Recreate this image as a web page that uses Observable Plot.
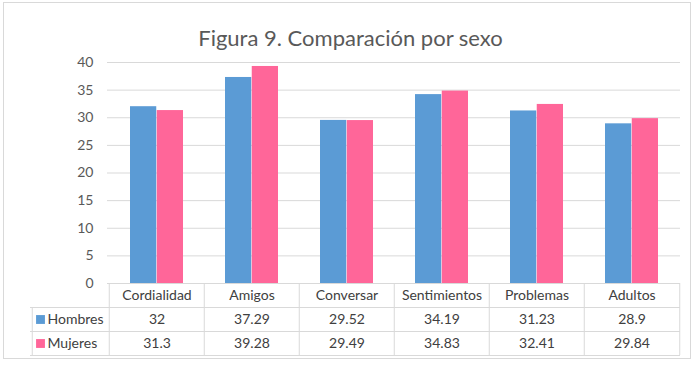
<!DOCTYPE html>
<html>
<head>
<meta charset="utf-8">
<script src="https://cdn.jsdelivr.net/npm/d3@7"></script>
<script src="https://cdn.jsdelivr.net/npm/@observablehq/plot@0.6"></script>
<style>
  html, body { margin: 0; padding: 0; background: #fff; }
  #wrap { position: relative; width: 700px; height: 367px; overflow: hidden; }
  #border { position: absolute; left: 3px; top: 2px; width: 686px; height: 355px; border: 1px solid #d9d9d9; pointer-events: none; }
</style>
</head>
<body>
<div id="wrap"><div id="border"></div></div>
<script>
const title = "Figura 9. Comparación por sexo";
const categories = ["Cordialidad", "Amigos", "Conversar", "Sentimientos", "Problemas", "Adultos"];
const seriesNames = ["Hombres", "Mujeres"];
const hombres = [32, 37.29, 29.52, 34.19, 31.23, 28.9];
const mujeres = [31.3, 39.28, 29.49, 34.83, 32.41, 29.84];
const yTicks = [0, 5, 10, 15, 20, 25, 30, 35, 40];

const colors = {Hombres: "#5B9BD5", Mujeres: "#FF6699"};
const W = 700, H = 367, mL = 107, mR = 20, mT = 62, mB = 84;
const bw = (W - mL - mR) / categories.length;
const k = 40 / (H - mT - mB); // data units per pixel
const grid = "#d9d9d9";
const textColor = "#404040";
const font = "Lato, 'Open Sans', sans-serif";

const rows = categories.map((c, i) => ({cat: c, h: hombres[i], m: mujeres[i]}));

const chart = Plot.plot({
  width: W, height: H,
  marginLeft: mL, marginRight: mR, marginTop: mT, marginBottom: mB,
  style: {fontFamily: font, fontSize: "14px", color: textColor, background: "transparent"},
  x: {type: "band", domain: categories, padding: 0, axis: null},
  y: {domain: [0, 40], axis: null},
  marks: [
    Plot.gridY({ticks: yTicks, stroke: grid, strokeOpacity: 1}),
    Plot.axisY({ticks: yTicks, tickSize: 0, tickPadding: 14, fontSize: 14, fill: "#595959"}),
    Plot.barY(rows, {x: "cat", y: "h", fill: colors.Hombres, insetLeft: 21, insetRight: bw / 2}),
    Plot.barY(rows, {x: "cat", y: "m", fill: colors.Mujeres, insetLeft: bw / 2, insetRight: 21}),
    // table horizontal lines
    Plot.ruleY([0], {stroke: grid}),
    Plot.ruleY([0], {stroke: grid, dy: 24, insetLeft: -77}),
    Plot.ruleY([0], {stroke: grid, dy: 48, insetLeft: -77}),
    Plot.ruleY([0], {stroke: grid, dy: 72, insetLeft: -77}),
    // table vertical lines
    Plot.ruleX(categories, {x: d => d, dx: -bw / 2, y1: 0, y2: -72 * k, stroke: grid}),
    Plot.ruleX([categories[categories.length - 1]], {x: d => d, dx: bw / 2, y1: 0, y2: -72 * k, stroke: grid}),
    Plot.ruleX([categories[0]], {x: d => d, dx: -bw / 2 - 77, y1: -24 * k, y2: -72 * k, stroke: grid}),
    // header and values
    Plot.text(categories, {x: d => d, y: () => 0, dy: 12, text: d => d, fill: textColor, fontSize: 14}),
    Plot.text(rows, {x: "cat", y: () => 0, dy: 36, text: d => String(d.h), fill: textColor, fontSize: 14}),
    Plot.text(rows, {x: "cat", y: () => 0, dy: 60, text: d => String(d.m), fill: textColor, fontSize: 14}),
    // legend column
    Plot.text(seriesNames, {frameAnchor: "left", y: () => 0, dx: -60, dy: 36, text: d => d, textAnchor: "start", fill: textColor, fontSize: 14, filter: d => d === "Hombres"}),
    Plot.text(seriesNames, {frameAnchor: "left", y: () => 0, dx: -60, dy: 60, text: d => d, textAnchor: "start", fill: textColor, fontSize: 14, filter: d => d === "Mujeres"}),
    Plot.dot(seriesNames, {frameAnchor: "left", y: () => 0, dx: -67, dy: 36, symbol: "square", r: 5, fill: colors.Hombres, filter: d => d === "Hombres"}),
    Plot.dot(seriesNames, {frameAnchor: "left", y: () => 0, dx: -67, dy: 60, symbol: "square", r: 5, fill: colors.Mujeres, filter: d => d === "Mujeres"}),
    // title
    Plot.text([title], {frameAnchor: "top", dx: -(mL + (W - mL - mR) / 2 - W / 2), dy: -32, text: d => d, fontSize: 22, fill: "#595959"})
  ]
});
document.getElementById("wrap").prepend(chart);
</script>
</body>
</html>
